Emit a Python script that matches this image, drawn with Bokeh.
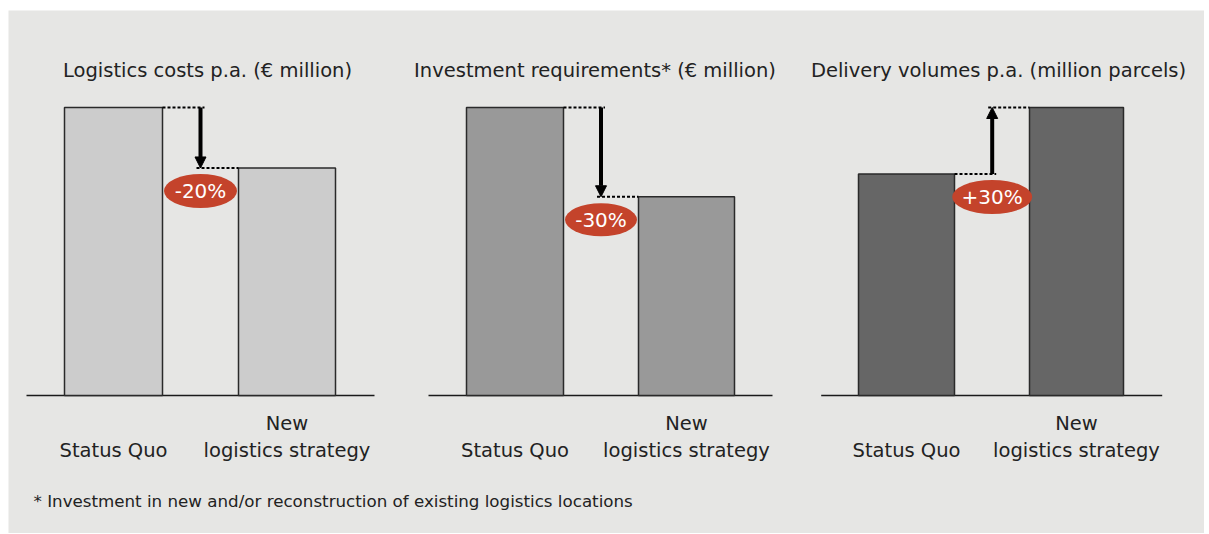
from bokeh.plotting import figure
from bokeh.models import Range1d, Arrow, NormalHead
from bokeh.core.properties import value
from bokeh.embed import file_html
from bokeh.resources import INLINE

# ---------------- data ----------------
titles = [
    "Logistics costs p.a. (€ million)",
    "Investment requirements* (€ million)",
    "Delivery volumes p.a. (million parcels)",
]
categories = ["Status Quo", "New\nlogistics strategy"]
status_quo = [100, 100, 100]
new_strategy = [79, 69, 130]
change_labels = ["-20%", "-30%", "+30%"]
footnote = "* Investment in new and/or reconstruction of existing logistics locations"

# ---------------- styling / layout ----------------
FONT = "DejaVu Sans"
BG = "#e6e6e4"
BAR_COLORS = ["#cccccc", "#999999", "#666666"]
RED = "#c4432b"
TXT = "#222222"

W, H = 1204, 533
BORDER_L, BORDER_T = 8, 10
BASE_PX = 395          # page y of the zero line
TOP_PX = 107           # page y of the tallest bar in each panel
FRAME_TOP = BORDER_T
FRAME_BOTTOM = H

bar_lefts = [[64, 238], [466, 638], [858, 1029]]
bar_widths = [[98, 97], [97, 96], [96, 94]]
arrow_x = [200, 600.5, 991.7]
base_lines = [[26, 374], [428, 772], [820.7, 1161.7]]
ell_size = [[73, 34], [72, 33], [80, 34]]
title_cx = [207, 594.5, 998]

# scale for panels 1/2 (value 100 reaches TOP_PX) and panel 3 (max value)
scale_main = (BASE_PX - TOP_PX) / max(status_quo[0], new_strategy[0])
scale_p3 = (BASE_PX - TOP_PX) / max(status_quo[2], new_strategy[2])

p = figure(
    width=W, height=H, output_backend="svg", toolbar_location=None, title=None,
    x_range=Range1d(BORDER_L, W),
    y_range=Range1d((BASE_PX - FRAME_BOTTOM) / scale_main, (BASE_PX - FRAME_TOP) / scale_main),
    min_border_left=BORDER_L, min_border_right=0, min_border_bottom=0, min_border_top=BORDER_T,
)
p.extra_y_ranges = {"p3": Range1d((BASE_PX - FRAME_BOTTOM) / scale_p3, (BASE_PX - FRAME_TOP) / scale_p3)}
p.xaxis.visible = False
p.yaxis.visible = False
p.grid.visible = False
p.outline_line_color = None
p.background_fill_color = BG
p.border_fill_color = "white"


def ypx(py):
    """page pixel y -> main-range value (for text placement)"""
    return (BASE_PX - py) / scale_main


for i in range(3):
    rname = "p3" if i == 2 else "default"
    sc = scale_p3 if i == 2 else scale_main
    vals = [status_quo[i], new_strategy[i]]
    lefts = bar_lefts[i]
    rights = [bar_lefts[i][k] + bar_widths[i][k] for k in range(2)]

    # baseline
    p.line(base_lines[i], [0, 0], line_color="#1a1a1a", line_width=1.5, y_range_name=rname)

    # bars
    p.quad(left=lefts, right=rights, bottom=[0, 0], top=vals,
           fill_color=BAR_COLORS[i], line_color="#2a2a2a", line_width=1.5,
           y_range_name=rname)

    ax = arrow_x[i]
    # dotted connectors
    p.line([rights[0], ax + 4], [vals[0], vals[0]], line_color="black",
           line_width=2, line_dash="3 2", y_range_name=rname)
    p.line([ax - 4, lefts[1]], [vals[1], vals[1]], line_color="black",
           line_width=2, line_dash="3 2", y_range_name=rname)

    # arrow
    p.add_layout(Arrow(
        end=NormalHead(size=11, fill_color="black", line_color="black", line_width=1),
        x_start=ax, y_start=vals[0], x_end=ax, y_end=vals[1],
        line_color="black", line_width=4, y_range_name=rname))

    # red ellipse badge
    low = min(vals)
    ey = low - 23 / sc
    p.ellipse(x=[ax], y=[ey], width=[ell_size[i][0]], height=[ell_size[i][1]],
              width_units="screen", height_units="screen",
              fill_color=RED, line_color=None, y_range_name=rname)
    p.text(x=[ax], y=[ey], text=[change_labels[i]], text_color="white",
           text_font=value(FONT), text_font_size="20px",
           text_align="center", text_baseline="middle", y_range_name=rname)

    # title
    p.text(x=[title_cx[i]], y=[ypx(70)], text=[titles[i]], text_color=TXT,
           text_font=value(FONT), text_font_size="19.5px",
           text_align="center", text_baseline="alphabetic")

    # category labels
    for k in range(2):
        cx = (lefts[k] + rights[k]) / 2
        lines = categories[k].split("\n")
        n = len(lines)
        for j, ln in enumerate(lines):
            by = 450 - (n - 1 - j) * 27
            p.text(x=[cx], y=[ypx(by)], text=[ln], text_color=TXT,
                   text_font=value(FONT), text_font_size="19.5px",
                   text_align="center", text_baseline="alphabetic")

# footnote
p.text(x=[33], y=[ypx(500)], text=[footnote], text_color=TXT,
       text_font=value(FONT), text_font_size="16.7px",
       text_align="left", text_baseline="alphabetic")

open("out.html", "w").write(file_html(p, INLINE))
